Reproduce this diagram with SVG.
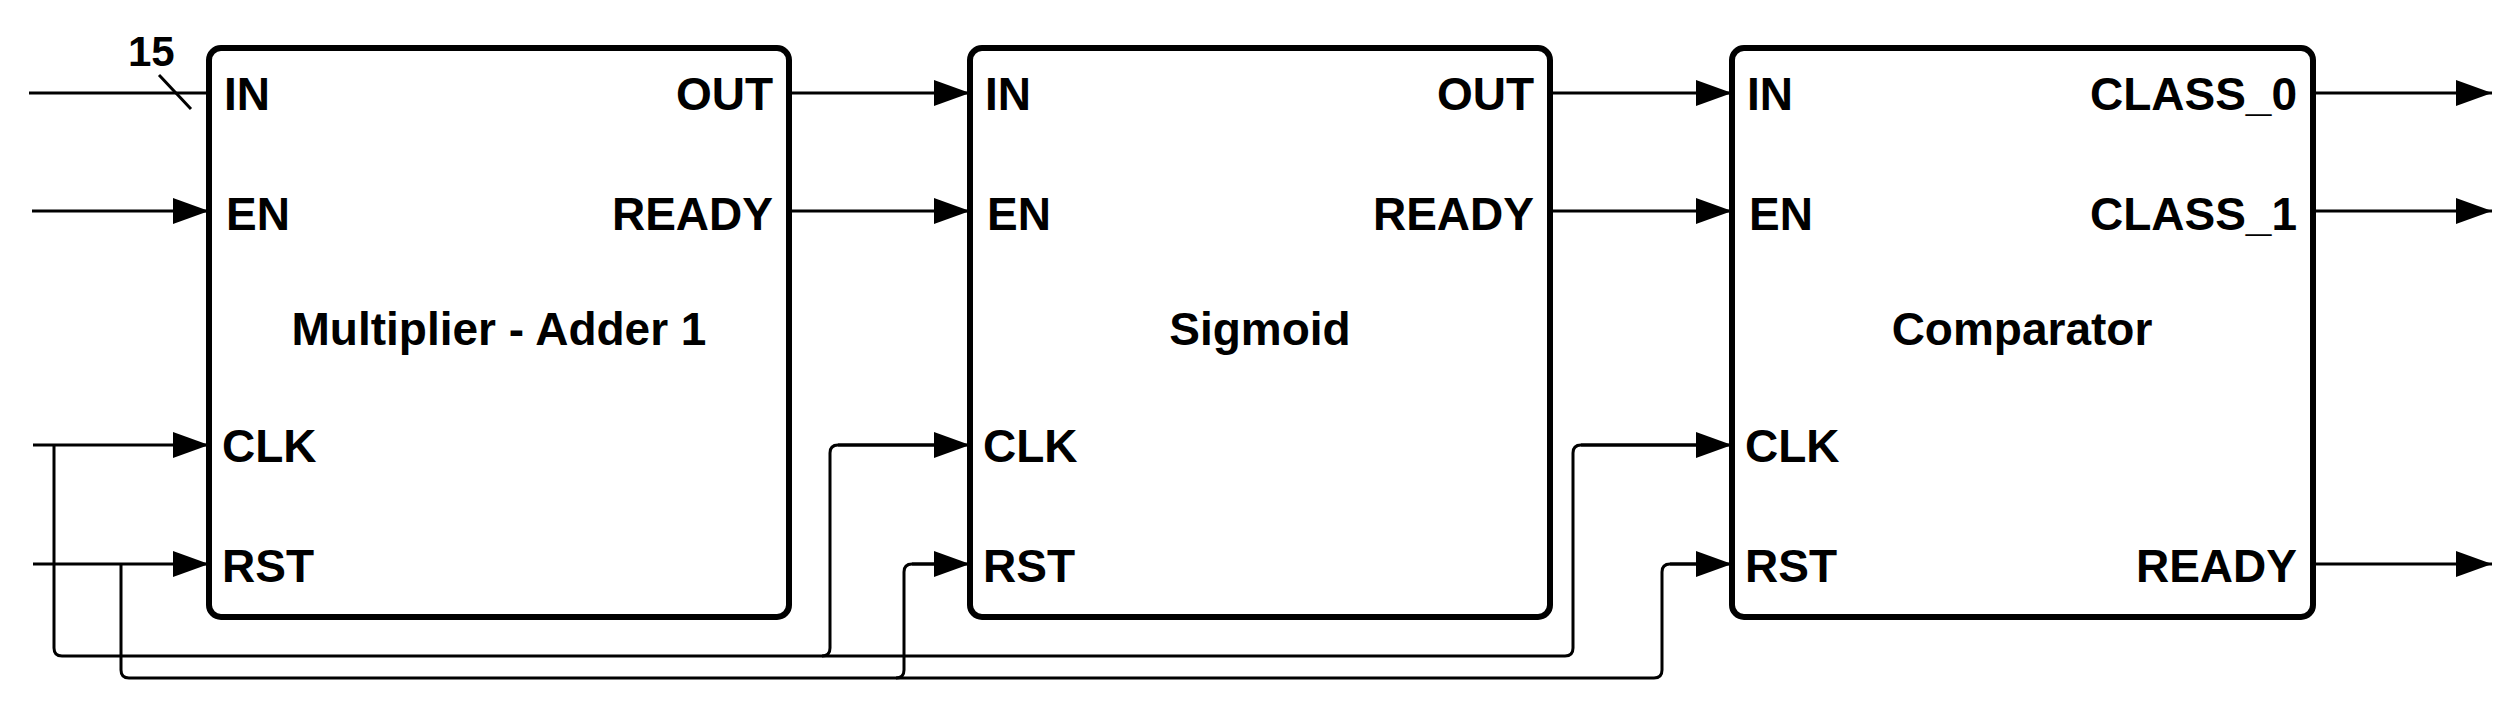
<svg xmlns="http://www.w3.org/2000/svg" width="2513" height="710" viewBox="0 0 2513 710">
<defs>
<marker id="ah" markerWidth="36" markerHeight="26" refX="36" refY="13" markerUnits="userSpaceOnUse" orient="auto"><path d="M0,0 L36,13 L0,26 Z" fill="#000"/></marker>
<style>
.blk{fill:#fff;stroke:#000;stroke-width:6}
text{font-family:"Liberation Sans",Arial,sans-serif;font-weight:bold;font-size:46px;fill:#000}
.r{text-anchor:end}.c{text-anchor:middle}
.w{fill:none;stroke:#000;stroke-width:3;stroke-linejoin:round}
.a{marker-end:url(#ah)}
</style>
</defs>
<g id="connectors">
<path class="w" d="M29,93 H209"/>
<path class="w" d="M159,75 L191,109"/>
<text x="128" y="66" style="font-size:42px">15</text>
<path class="w a" d="M32,211 H209"/>
<path class="w a" d="M33,445 H209"/>
<path class="w a" d="M33,564 H209"/>
<path class="w" d="M54,445 V648 Q54,656 62,656 H1565 Q1573,656 1573,648 V453 Q1573,445 1581,445 H1700"/>
<path class="w a" d="M1581,445 H1732"/>
<path class="w" d="M822,656 Q830,656 830,648 V453 Q830,445 838,445 H940"/>
<path class="w a" d="M838,445 H970"/>
<path class="w" d="M121,564 V670 Q121,678 129,678 H1654 Q1662,678 1662,670 V572 Q1662,564 1670,564 H1700"/>
<path class="w a" d="M1670,564 H1732"/>
<path class="w" d="M896,678 Q904,678 904,670 V572 Q904,564 912,564 H940"/>
<path class="w a" d="M912,564 H970"/>
<path class="w a" d="M789,93 H970"/>
<path class="w a" d="M789,211 H970"/>
<path class="w a" d="M1550,93 H1732"/>
<path class="w a" d="M1550,211 H1732"/>
<path class="w a" d="M2313,93 H2492"/>
<path class="w a" d="M2313,211 H2492"/>
<path class="w a" d="M2313,564 H2492"/>
</g>
<g id="mac">
<rect class="blk" x="209" y="48" width="580" height="569" rx="12"/>
<text x="224" y="110">IN</text><text x="226" y="230">EN</text><text x="222" y="462">CLK</text><text x="222" y="582">RST</text>
<text class="r" x="773" y="110">OUT</text><text class="r" x="773" y="230">READY</text>
<text class="c" x="499" y="345">Multiplier - Adder 1</text>
</g>
<g id="sigmoid">
<rect class="blk" x="970" y="48" width="580" height="569" rx="12"/>
<text x="985" y="110">IN</text><text x="987" y="230">EN</text><text x="983" y="462">CLK</text><text x="983" y="582">RST</text>
<text class="r" x="1534" y="110">OUT</text><text class="r" x="1534" y="230">READY</text>
<text class="c" x="1260" y="345">Sigmoid</text>
</g>
<g id="comparator">
<rect class="blk" x="1732" y="48" width="581" height="569" rx="12"/>
<text x="1747" y="110">IN</text><text x="1749" y="230">EN</text><text x="1745" y="462">CLK</text><text x="1745" y="582">RST</text>
<text class="r" x="2297" y="110">CLASS_0</text><text class="r" x="2297" y="230">CLASS_1</text><text class="r" x="2297" y="582">READY</text>
<text class="c" x="2022" y="345">Comparator</text>
</g>
</svg>
